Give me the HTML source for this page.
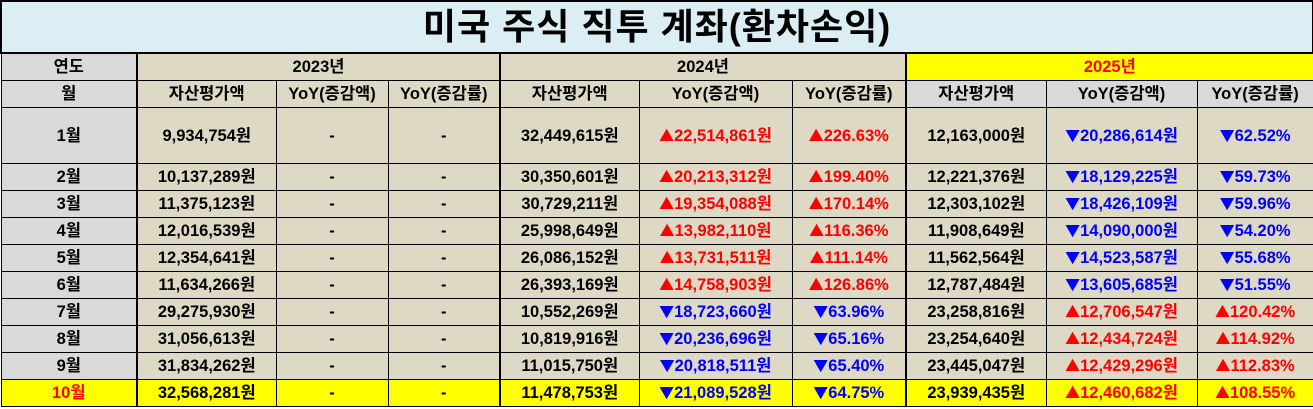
<!DOCTYPE html>
<html><head><meta charset="utf-8"><style>
body{margin:0;width:1313px;height:409px;overflow:hidden;background:#fff;}
table{border-collapse:collapse;table-layout:fixed;position:absolute;left:0;top:0;width:1312px;
font-family:"Liberation Sans","Noto Sans CJK KR","NanumGothic",sans-serif;font-weight:bold;font-size:16.5px;}
td{border:1px solid #000;text-align:center;padding:0;background:#ddd9c4;color:#000;white-space:nowrap;overflow:hidden;line-height:20px;}
.t td{background:#daeef3;font-size:36px;height:50px;border:2px solid #000;letter-spacing:1px;line-height:44px;}
.g{background:#d9d9d9;}
.y{background:#ffff00 !important;}
.r{color:#ff0000;}
.b{color:#0000ff;}
.L{border-left:2px solid #000;}
i{font-style:normal;font-family:"Noto Sans CJK KR",sans-serif;font-size:15px;}
tr.h td{height:26px;}
tr.d td{height:26px;}
tr.f td{height:55px;}
</style></head><body>
<table>
<colgroup><col style="width:136px"><col style="width:139px"><col style="width:112px"><col style="width:112px"><col style="width:139px"><col style="width:153px"><col style="width:114px"><col style="width:140px"><col style="width:151px"><col style="width:116px"></colgroup>
<tr class="t"><td colspan="10">미국 주식 직투 계좌(환차손익)</td></tr>
<tr class="h"><td class="g">연도</td><td colspan="3" class="L">2023년</td><td colspan="3" class="L">2024년</td><td colspan="3" class="L y r">2025년</td></tr>
<tr class="h"><td class="g">월</td><td class="L">자산평가액</td><td>YoY(증감액)</td><td>YoY(증감률)</td><td class="L">자산평가액</td><td>YoY(증감액)</td><td>YoY(증감률)</td><td class="L g">자산평가액</td><td class="g">YoY(증감액)</td><td class="g">YoY(증감률)</td></tr>
<tr class="f"><td class="g">1월</td><td class="L">9,934,754원</td><td>-</td><td>-</td><td class="L">32,449,615원</td><td class="r"><i>▲</i>22,514,861원</td><td class="r"><i>▲</i>226.63%</td><td class="L">12,163,000원</td><td class="b"><i>▼</i>20,286,614원</td><td class="b"><i>▼</i>62.52%</td></tr>
<tr class="d"><td class="g">2월</td><td class="L">10,137,289원</td><td>-</td><td>-</td><td class="L">30,350,601원</td><td class="r"><i>▲</i>20,213,312원</td><td class="r"><i>▲</i>199.40%</td><td class="L">12,221,376원</td><td class="b"><i>▼</i>18,129,225원</td><td class="b"><i>▼</i>59.73%</td></tr>
<tr class="d"><td class="g">3월</td><td class="L">11,375,123원</td><td>-</td><td>-</td><td class="L">30,729,211원</td><td class="r"><i>▲</i>19,354,088원</td><td class="r"><i>▲</i>170.14%</td><td class="L">12,303,102원</td><td class="b"><i>▼</i>18,426,109원</td><td class="b"><i>▼</i>59.96%</td></tr>
<tr class="d"><td class="g">4월</td><td class="L">12,016,539원</td><td>-</td><td>-</td><td class="L">25,998,649원</td><td class="r"><i>▲</i>13,982,110원</td><td class="r"><i>▲</i>116.36%</td><td class="L">11,908,649원</td><td class="b"><i>▼</i>14,090,000원</td><td class="b"><i>▼</i>54.20%</td></tr>
<tr class="d"><td class="g">5월</td><td class="L">12,354,641원</td><td>-</td><td>-</td><td class="L">26,086,152원</td><td class="r"><i>▲</i>13,731,511원</td><td class="r"><i>▲</i>111.14%</td><td class="L">11,562,564원</td><td class="b"><i>▼</i>14,523,587원</td><td class="b"><i>▼</i>55.68%</td></tr>
<tr class="d"><td class="g">6월</td><td class="L">11,634,266원</td><td>-</td><td>-</td><td class="L">26,393,169원</td><td class="r"><i>▲</i>14,758,903원</td><td class="r"><i>▲</i>126.86%</td><td class="L">12,787,484원</td><td class="b"><i>▼</i>13,605,685원</td><td class="b"><i>▼</i>51.55%</td></tr>
<tr class="d"><td class="g">7월</td><td class="L">29,275,930원</td><td>-</td><td>-</td><td class="L">10,552,269원</td><td class="b"><i>▼</i>18,723,660원</td><td class="b"><i>▼</i>63.96%</td><td class="L">23,258,816원</td><td class="r"><i>▲</i>12,706,547원</td><td class="r"><i>▲</i>120.42%</td></tr>
<tr class="d"><td class="g">8월</td><td class="L">31,056,613원</td><td>-</td><td>-</td><td class="L">10,819,916원</td><td class="b"><i>▼</i>20,236,696원</td><td class="b"><i>▼</i>65.16%</td><td class="L">23,254,640원</td><td class="r"><i>▲</i>12,434,724원</td><td class="r"><i>▲</i>114.92%</td></tr>
<tr class="d"><td class="g">9월</td><td class="L">31,834,262원</td><td>-</td><td>-</td><td class="L">11,015,750원</td><td class="b"><i>▼</i>20,818,511원</td><td class="b"><i>▼</i>65.40%</td><td class="L">23,445,047원</td><td class="r"><i>▲</i>12,429,296원</td><td class="r"><i>▲</i>112.83%</td></tr>
<tr class="d"><td class="y r">10월</td><td class="L y">32,568,281원</td><td class="y">-</td><td class="y">-</td><td class="L y">11,478,753원</td><td class="y b"><i>▼</i>21,089,528원</td><td class="y b"><i>▼</i>64.75%</td><td class="L y">23,939,435원</td><td class="y r"><i>▲</i>12,460,682원</td><td class="y r"><i>▲</i>108.55%</td></tr>
</table>
</body></html>
